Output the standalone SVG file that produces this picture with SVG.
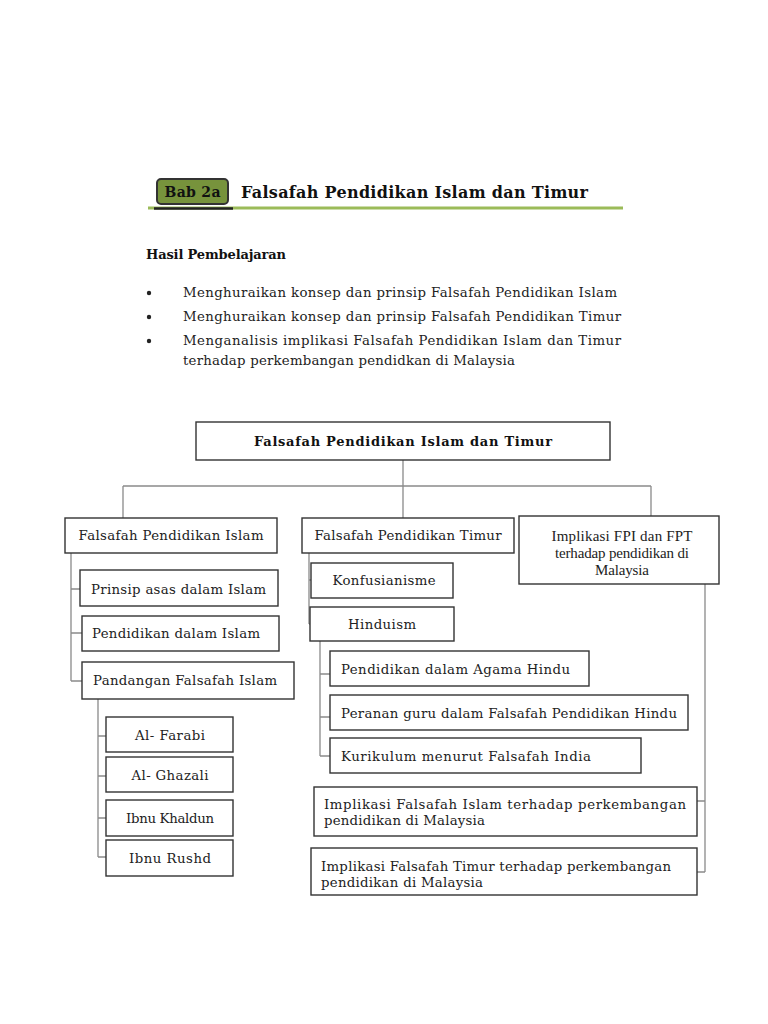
<svg xmlns="http://www.w3.org/2000/svg" width="768" height="1024" viewBox="0 0 768 1024">
<style>
.bg{fill:#fff}
.box{fill:#fff;stroke:#333;stroke-width:1.4}
.con{fill:none;stroke:#8a8a8a;stroke-width:1.3}
.t{font-family:"DejaVu Serif","Liberation Serif",serif;font-size:13.3px;fill:#222}
.tb{font-family:"DejaVu Serif","Liberation Serif",serif;font-weight:bold;fill:#111}
.tn{font-family:"Liberation Serif",serif;font-size:15px;fill:#222}
</style>
<rect class="bg" x="0" y="0" width="768" height="1024"/>
<g id="header">
<line x1="148" y1="208" x2="623" y2="208" stroke="#9bbb59" stroke-width="3"/>
<line x1="154" y1="208.5" x2="233" y2="208.5" stroke="#222" stroke-width="2.5"/>
<rect x="157" y="179" width="71" height="25" rx="4" fill="#77933c" stroke="#333" stroke-width="2"/>
<text class="tb" x="192.5" y="197" font-size="14" text-anchor="middle" textLength="56">Bab 2a</text>
<text class="tb" x="241" y="198" font-size="16" textLength="347">Falsafah Pendidikan Islam dan Timur</text>
</g>
<g id="outcomes">
<text class="tb" x="146" y="259" font-size="13" textLength="140">Hasil Pembelajaran</text>
<circle cx="149" cy="293" r="2.2" fill="#222"/>
<circle cx="149" cy="317" r="2.2" fill="#222"/>
<circle cx="149" cy="341" r="2.2" fill="#222"/>
<text class="t" x="183" y="297" textLength="434">Menghuraikan konsep dan prinsip  Falsafah Pendidikan Islam</text>
<text class="t" x="183" y="321" textLength="438">Menghuraikan  konsep dan prinsip Falsafah Pendidikan Timur</text>
<text class="t" x="183" y="345" textLength="438">Menganalisis  implikasi Falsafah Pendidikan Islam dan Timur</text>
<text class="t" x="183" y="365" textLength="332">terhadap perkembangan pendidkan di Malaysia</text>
</g>
<g id="connectors">
<path class="con" d="M403 460V518M123 486H651M123 486V518M651 486V516"/>
<path class="con" d="M71 553V681M71 589H80M71 633H82M71 681H82"/>
<path class="con" d="M98 699V857M98 736H106M98 776H106M98 818H106M98 857H106"/>
<path class="con" d="M309 553V624M309 580H311M309 624H310"/>
<path class="con" d="M320 641V756M320 674H330M320 717H330M320 756H330"/>
<path class="con" d="M705 584V872M697 801H705M697 872H705"/>
</g>
<g id="root"><rect class="box" x="196" y="422" width="414" height="38"/>
<text class="tb" x="403" y="446" font-size="13" text-anchor="middle" textLength="298">Falsafah Pendidikan Islam dan Timur</text></g>
<g id="fpi"><rect class="box" x="65" y="518" width="212" height="35"/>
<text class="t" x="171" y="540" text-anchor="middle" textLength="185">Falsafah Pendidikan Islam</text></g>
<g id="fpt"><rect class="box" x="302" y="518" width="212" height="35"/>
<text class="t" x="408" y="540" text-anchor="middle" textLength="187">Falsafah Pendidikan Timur</text></g>
<g id="implikasi"><rect class="box" x="519" y="516" width="200" height="68"/>
<text class="tn" x="622" y="541" text-anchor="middle" textLength="141">Implikasi FPI dan FPT</text>
<text class="tn" x="622" y="558" text-anchor="middle" textLength="134">terhadap pendidikan di</text>
<text class="tn" x="622" y="575" text-anchor="middle" textLength="54">Malaysia</text></g>
<g id="prinsip"><rect class="box" x="80" y="570" width="198" height="36"/>
<text class="t" x="91" y="594" textLength="175">Prinsip asas dalam Islam</text></g>
<g id="pendidikan-islam"><rect class="box" x="82" y="616" width="197" height="35"/>
<text class="t" x="92" y="638" textLength="168">Pendidikan dalam Islam</text></g>
<g id="pandangan"><rect class="box" x="82" y="662" width="212" height="37"/>
<text class="t" x="93" y="685" textLength="184">Pandangan Falsafah Islam</text></g>
<g id="farabi"><rect class="box" x="106" y="717" width="127" height="35"/>
<text class="t" x="170" y="740" text-anchor="middle" textLength="70">Al- Farabi</text></g>
<g id="ghazali"><rect class="box" x="106" y="757" width="127" height="35"/>
<text class="t" x="170" y="780" text-anchor="middle" textLength="77">Al- Ghazali</text></g>
<g id="khaldun"><rect class="box" x="106" y="800" width="127" height="36"/>
<text class="t" x="170" y="823" text-anchor="middle" font-size="11.4" textLength="88">Ibnu Khaldun</text></g>
<g id="rushd"><rect class="box" x="106" y="840" width="127" height="36"/>
<text class="t" x="170" y="863" text-anchor="middle" textLength="82">Ibnu Rushd</text></g>
<g id="konfusianisme"><rect class="box" x="311" y="563" width="142" height="35"/>
<text class="t" x="384" y="585" text-anchor="middle" font-size="12.8" textLength="103">Konfusianisme</text></g>
<g id="hinduism"><rect class="box" x="310" y="607" width="144" height="34"/>
<text class="t" x="382" y="629" text-anchor="middle" textLength="68">Hinduism</text></g>
<g id="agama-hindu"><rect class="box" x="330" y="651" width="259" height="35"/>
<text class="t" x="341" y="674" textLength="229">Pendidikan dalam Agama  Hindu</text></g>
<g id="peranan"><rect class="box" x="330" y="695" width="358" height="35"/>
<text class="t" x="341" y="718" textLength="336">Peranan guru dalam Falsafah Pendidikan Hindu</text></g>
<g id="kurikulum"><rect class="box" x="330" y="738" width="311" height="35"/>
<text class="t" x="341" y="761" textLength="250">Kurikulum menurut Falsafah  India</text></g>
<g id="impl-islam"><rect class="box" x="314" y="787" width="383" height="49"/>
<text class="t" x="324" y="809" textLength="362">Implikasi  Falsafah  Islam  terhadap  perkembangan</text>
<text class="t" x="324" y="825" textLength="161">pendidikan di Malaysia</text></g>
<g id="impl-timur"><rect class="box" x="311" y="848" width="386" height="47"/>
<text class="t" x="321" y="871" textLength="350">Implikasi Falsafah Timur terhadap perkembangan</text>
<text class="t" x="321" y="887" textLength="162">pendidikan di Malaysia</text></g>
</svg>
